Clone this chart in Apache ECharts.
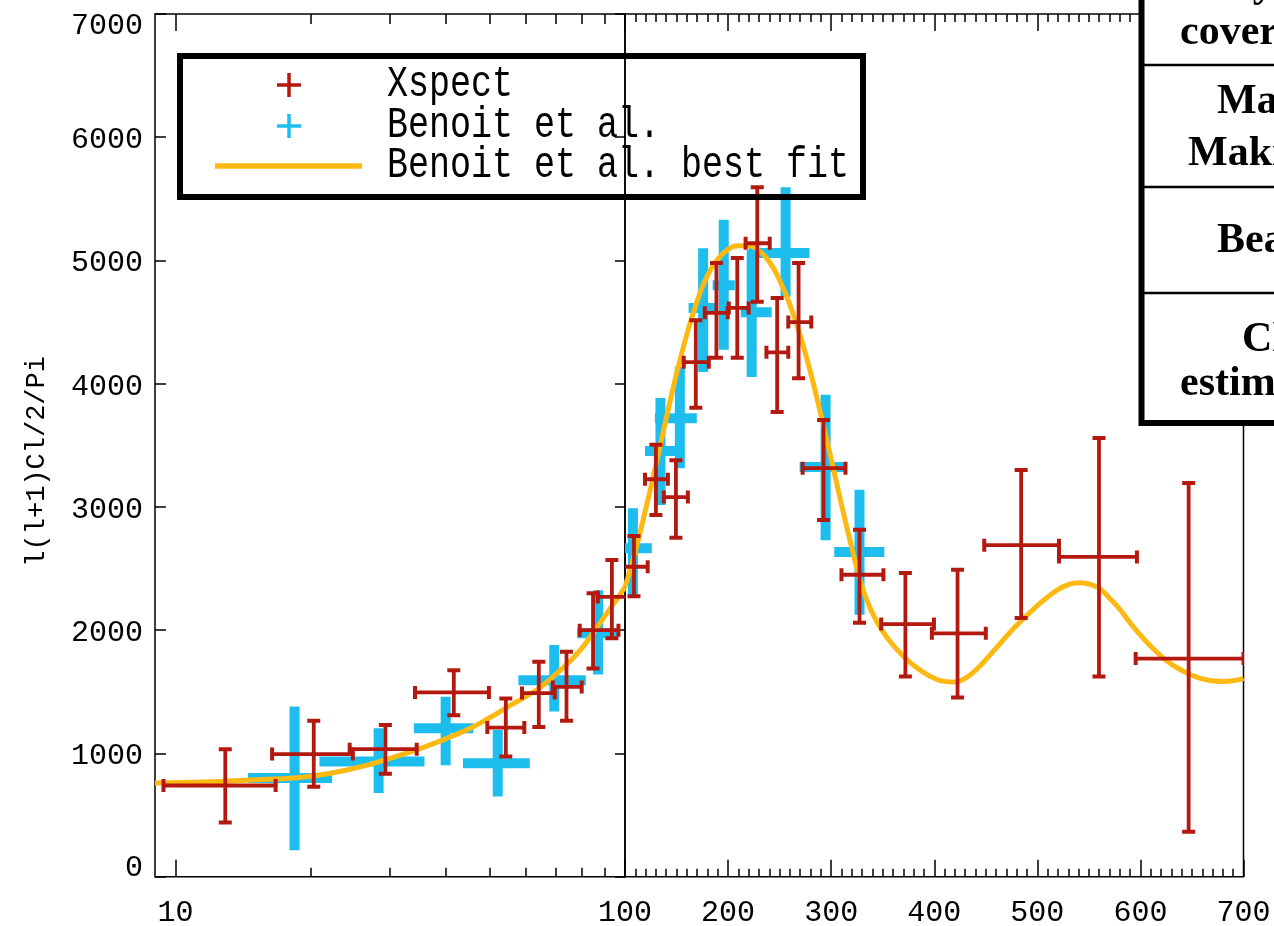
<!DOCTYPE html>
<html>
<head>
<meta charset="utf-8">
<script src="https://cdn.jsdelivr.net/npm/echarts@6/dist/echarts.min.js"></script>
<style>
  html, body { margin: 0; padding: 0; background: #fff; }
  #chart { width: 1274px; height: 926px; }
</style>
</head>
<body>
<div id="chart"></div>
<script>
// ---- Xspect band powers: multipole centre, bin edges, l(l+1)Cl/2pi and its 1-sigma range
const xspectEll   = [12.9, 20.3, 29.3, 41.6, 54.3, 64.3, 74.1, 84.9, 93.5, 108.7, 130, 149.4, 168.7, 188.7, 208.9, 228.3, 247.6, 268.4, 292.6, 327.5, 372, 422.6, 484.3, 559.8, 646.8];
const xspectEllLo = [9.4, 16.4, 24.4, 34.1, 49.4, 59.0, 69.1, 79.3, 87, 97, 119.4, 137.7, 157, 177.4, 200.7, 217, 237.2, 258.4, 272.3, 310, 348.5, 397.7, 448.5, 521, 595.4];
const xspectEllHi = [16.7, 24.8, 34.4, 49.8, 59.7, 69.8, 80.1, 96.7, 101.5, 122, 141.6, 161, 181.3, 199.7, 220, 240.4, 258.4, 280.7, 313.9, 350.7, 399.7, 450, 521, 596.6, 700];
const xspectCl    = [740, 995, 1035, 1495, 1210, 1490, 1540, 2000, 2270, 2515, 3225, 3080, 4175, 4575, 4615, 5140, 4255, 4500, 3315, 2450, 2050, 1975, 2690, 2595, 1770];
const xspectClLo  = [440, 730, 835, 1310, 975, 1215, 1265, 1690, 1935, 2275, 2935, 2750, 3805, 4210, 4210, 4665, 3770, 4045, 2895, 2060, 1625, 1455, 2100, 1625, 365];
const xspectClHi  = [1035, 1265, 1230, 1675, 1445, 1745, 1825, 2300, 2570, 2765, 3505, 3380, 4515, 4980, 5020, 5595, 4695, 4980, 3705, 2815, 2465, 2490, 3300, 3560, 3195];

// ---- Benoit et al. band powers
const benoitEll   = [18.4, 28.3, 39.9, 52.1, 69.6, 87.1, 107.7, 134.4, 153.2, 175.8, 195.8, 222.9, 255.8, 294.6, 327.5];
const benoitEllLo = [14.5, 20.9, 33.9, 43.6, 57.9, 78.3, 98, 119.4, 129, 161.7, 185, 212.3, 220, 269.4, 303];
const benoitEllHi = [22.3, 35.8, 46.0, 61.4, 81.8, 96.7, 126, 151.3, 169.7, 190, 206.5, 242.3, 279, 313.9, 351.6];
const benoitCl    = [800, 935, 1205, 920, 1595, 1975, 2665, 3455, 3720, 4615, 4800, 4580, 5060, 3325, 2635];
const benoitClLo  = [215, 680, 905, 650, 1340, 1640, 2285, 3015, 3315, 4095, 4275, 4055, 4705, 2730, 2125];
const benoitClHi  = [1380, 1205, 1460, 1190, 1880, 2325, 2990, 3885, 4135, 5100, 5330, 5085, 5595, 3910, 3140];

// ---- Benoit et al. best-fit spectrum
const fitEll = [9, 12, 16, 20, 25, 30, 35, 40, 45, 50, 55, 60, 65, 70, 75, 80, 85, 90, 95, 100,
  110, 120, 130, 140, 150, 160, 170, 180, 190, 200, 210, 220, 230, 240, 250, 260, 270, 280, 290, 300,
  310, 320, 330, 340, 350, 360, 370, 380, 390, 400, 410, 420, 430, 440, 450, 460, 470, 480, 490, 500,
  510, 520, 530, 540, 550, 560, 570, 580, 590, 600, 610, 620, 630, 640, 650, 660, 670, 680, 690, 700];
const fitCl = [760, 770, 790, 815, 880, 960, 1040, 1120, 1200, 1290, 1380, 1460, 1540, 1640, 1740, 1850, 1980, 2110, 2230, 2350,
  2640, 2980, 3340, 3720, 4080, 4400, 4670, 4880, 5010, 5090, 5120, 5120, 5080, 4990, 4840, 4640, 4390, 4090, 3750, 3390,
  3020, 2670, 2350, 2140, 1990, 1880, 1790, 1715, 1655, 1610, 1585, 1580, 1610, 1675, 1760, 1855, 1950, 2040, 2120, 2200,
  2270, 2330, 2370, 2385, 2375, 2340, 2260, 2170, 2060, 1960, 1870, 1790, 1725, 1675, 1635, 1605, 1590, 1583, 1590, 1610];

// ---- axis ticks and texts
const logTicks = [20, 30, 40, 50, 60, 70, 80, 90];
const logLabels = [10];
const yLabelTitle = 'l(l+1)Cl/2/Pi';
const legendNames = ['Xspect', 'Benoit et al.', 'Benoit et al. best fit'];
const tableLines = [
  { text: 'Sky', x: 1206, y: -15 },
  { text: 'coverage', x: 1180, y: 33 },
  { text: 'Map', x: 1217, y: 102 },
  { text: 'Making', x: 1188, y: 154 },
  { text: 'Beam', x: 1217, y: 241 },
  { text: 'Cl', x: 1242, y: 340 },
  { text: 'estimation', x: 1180, y: 384 }
];

const RED = '#b3190f';
const BLUE = '#1dbdee';
const YELLOW = '#fcb912';
const MONO = '"Liberation Mono", "DejaVu Sans Mono", monospace';
const BREAK = 100; // multipole where the axis turns from log to linear

function bandRows(ell, lo, hi, cl, clLo, clHi, keep) {
  const out = [];
  for (let i = 0; i < ell.length; i++) {
    if (keep(ell[i])) out.push([ell[i], cl[i], lo[i], hi[i], clLo[i], clHi[i]]);
  }
  return out;
}
function fitRows(keep) {
  const out = [];
  for (let i = 0; i < fitEll.length; i++) if (keep(fitEll[i])) out.push([fitEll[i], fitCl[i]]);
  return out;
}
const isLow = v => v < BREAK;
const isHigh = v => v >= BREAK;

// error cross: horizontal bin width + vertical 1-sigma bar, optional end caps
function crossItem(color, width, cap) {
  return function (params, api) {
    const ell = api.value(0), cl = api.value(1);
    const l = api.coord([api.value(2), cl]);
    const r = api.coord([api.value(3), cl]);
    const lo = api.coord([ell, api.value(4)]);
    const hi = api.coord([ell, api.value(5)]);
    const st = { stroke: color, lineWidth: width, lineCap: 'butt' };
    const kids = [
      { type: 'line', shape: { x1: l[0], y1: l[1], x2: r[0], y2: r[1] }, style: st },
      { type: 'line', shape: { x1: lo[0], y1: lo[1], x2: hi[0], y2: hi[1] }, style: st }
    ];
    if (cap) {
      const cs = { stroke: color, lineWidth: 4, lineCap: 'butt' };
      kids.push({ type: 'line', shape: { x1: l[0], y1: l[1] - cap, x2: l[0], y2: l[1] + cap }, style: cs });
      kids.push({ type: 'line', shape: { x1: r[0], y1: r[1] - cap, x2: r[0], y2: r[1] + cap }, style: cs });
      kids.push({ type: 'line', shape: { x1: lo[0] - cap, y1: lo[1], x2: lo[0] + cap, y2: lo[1] }, style: cs });
      kids.push({ type: 'line', shape: { x1: hi[0] - cap, y1: hi[1], x2: hi[0] + cap, y2: hi[1] }, style: cs });
    }
    return { type: 'group', children: kids };
  };
}

const tickLine = { color: '#000', width: 1.5 };
const labelFont = { fontFamily: MONO, fontSize: 30, color: '#000' };

function logAxis(position, ticks, len, labels) {
  return {
    gridIndex: 0, type: 'log', logBase: 10, min: 9, max: 100, position: position,
    axisLine: { show: false, onZero: false },
    axisTick: { show: true, inside: true, length: len, customValues: ticks, lineStyle: tickLine },
    axisLabel: labels ? Object.assign({ show: true, customValues: labels, margin: 21 }, labelFont) : { show: false },
    splitLine: { show: false }
  };
}
function linAxis(position, labels) {
  return {
    gridIndex: 1, type: 'value', min: 100, max: 700, interval: 100, position: position,
    axisLine: { show: false, onZero: false },
    axisTick: { show: true, inside: true, length: 17, lineStyle: tickLine },
    minorTick: { show: true, splitNumber: 10, length: 8, lineStyle: tickLine },
    axisLabel: labels ? Object.assign({ show: true, margin: 21, showMinLabel: true, showMaxLabel: true }, labelFont) : { show: false },
    splitLine: { show: false }, minorSplitLine: { show: false }
  };
}

const richY = {
  top: { fontFamily: MONO, fontSize: 30, color: '#000', padding: [24, 0, 0, 0] },
  bot: { fontFamily: MONO, fontSize: 30, color: '#000', padding: [0, 0, 18, 0] },
  n:   { fontFamily: MONO, fontSize: 30, color: '#000', padding: [6, 0, 0, 0] }
};

const legendGraphics = [
  { type: 'rect', shape: { x: 180, y: 56, width: 683, height: 141 }, style: { fill: 'none', stroke: '#000', lineWidth: 6 }, z: 50 },
  { type: 'line', shape: { x1: 277, y1: 85, x2: 301, y2: 85 }, style: { stroke: RED, lineWidth: 3.5 }, z: 50 },
  { type: 'line', shape: { x1: 289, y1: 73, x2: 289, y2: 97 }, style: { stroke: RED, lineWidth: 3.5 }, z: 50 },
  { type: 'line', shape: { x1: 277, y1: 126, x2: 301, y2: 126 }, style: { stroke: BLUE, lineWidth: 3.5 }, z: 50 },
  { type: 'line', shape: { x1: 289, y1: 114, x2: 289, y2: 138 }, style: { stroke: BLUE, lineWidth: 3.5 }, z: 50 },
  { type: 'line', shape: { x1: 215, y1: 166, x2: 362, y2: 166 }, style: { stroke: YELLOW, lineWidth: 5.5 }, z: 50 }
];
[84, 125, 165].forEach(function (y, i) {
  legendGraphics.push({
    type: 'text', x: 387, y: y, scaleY: 1.25, z: 50,
    style: { text: legendNames[i], x: 0, y: 0, font: '35px ' + MONO, fill: '#000',
             textAlign: 'left', textVerticalAlign: 'middle', align: 'left', verticalAlign: 'middle' }
  });
});

const tableGraphics = [
  { type: 'rect', shape: { x: 1141.5, y: -20, width: 200, height: 443 }, style: { fill: '#fff', stroke: '#000', lineWidth: 6 }, z: 100 }
];
[65, 187, 293].forEach(function (y) {
  tableGraphics.push({ type: 'line', shape: { x1: 1142, y1: y, x2: 1300, y2: y }, style: { stroke: '#000', lineWidth: 2.5 }, z: 101 });
});
tableLines.forEach(function (t) {
  tableGraphics.push({
    type: 'text', x: t.x, y: t.y, z: 102,
    style: { text: t.text, x: 0, y: 0, font: 'bold 42px "Liberation Serif", "Times New Roman", serif', fill: '#000',
             textAlign: 'left', textVerticalAlign: 'middle', align: 'left', verticalAlign: 'middle' }
  });
});

const chart = echarts.init(document.getElementById('chart'), null, { renderer: 'canvas' });
chart.setOption({
  animation: false,
  backgroundColor: '#fff',
  grid: [
    { left: 155, top: 14, width: 470, height: 862.7, show: true, borderColor: '#000', borderWidth: 1.5, backgroundColor: 'transparent', outerBoundsMode: 'none' },
    { left: 625, top: 14, width: 618.5, height: 862.7, show: true, borderColor: '#000', borderWidth: 1.5, backgroundColor: 'transparent', outerBoundsMode: 'none' }
  ],
  xAxis: [
    logAxis('bottom', logTicks, 9, null),
    logAxis('bottom', logLabels, 17, logLabels),
    logAxis('top', logTicks, 10, null),
    logAxis('top', logLabels, 17, null),
    linAxis('bottom', true),
    linAxis('top', false)
  ],
  yAxis: [
    {
      gridIndex: 0, type: 'value', min: 0, max: 7000, interval: 1000, position: 'left',
      axisLine: { show: false, onZero: false },
      axisTick: { show: true, inside: true, length: 11, lineStyle: tickLine },
      axisLabel: {
        margin: 12, fontFamily: MONO, fontSize: 30, color: '#000', showMinLabel: true, showMaxLabel: true,
        formatter: function (v) { return v === 7000 ? '{top|' + v + '}' : (v === 0 ? '{bot|0}' : '{n|' + v + '}'); },
        rich: richY
      },
      splitLine: { show: false },
      name: yLabelTitle, nameLocation: 'middle', nameGap: 105, nameRotate: 90,
      nameTextStyle: { fontFamily: MONO, fontSize: 27, color: '#000', padding: [0, 32, 0, 0] }
    },
    {
      gridIndex: 0, type: 'value', min: 0, max: 7000, interval: 1000, position: 'right',
      axisLine: { show: false, onZero: false },
      axisTick: { show: true, inside: true, length: 10, lineStyle: tickLine },
      axisLabel: { show: false }, splitLine: { show: false }
    },
    { gridIndex: 1, type: 'value', min: 0, max: 7000, interval: 1000, show: false, splitLine: { show: false } }
  ],
  series: [
    { type: 'custom', name: 'Benoit et al.', xAxisIndex: 0, yAxisIndex: 0, z: 2, clip: true,
      data: bandRows(benoitEll, benoitEllLo, benoitEllHi, benoitCl, benoitClLo, benoitClHi, isLow),
      encode: { x: 0, y: 1 }, renderItem: crossItem(BLUE, 10, 0) },
    { type: 'custom', name: 'Benoit et al.', xAxisIndex: 4, yAxisIndex: 2, z: 2, clip: true,
      data: bandRows(benoitEll, benoitEllLo, benoitEllHi, benoitCl, benoitClLo, benoitClHi, isHigh),
      encode: { x: 0, y: 1 }, renderItem: crossItem(BLUE, 10, 0) },
    { type: 'line', name: 'Benoit et al. best fit', xAxisIndex: 0, yAxisIndex: 0, z: 3, clip: true,
      data: fitRows(v => v <= BREAK), smooth: true, showSymbol: false, symbol: 'none',
      lineStyle: { color: YELLOW, width: 5 } },
    { type: 'line', name: 'Benoit et al. best fit', xAxisIndex: 4, yAxisIndex: 2, z: 3, clip: true,
      data: fitRows(isHigh), smooth: true, showSymbol: false, symbol: 'none',
      lineStyle: { color: YELLOW, width: 5 } },
    { type: 'custom', name: 'Xspect', xAxisIndex: 0, yAxisIndex: 0, z: 4, clip: true,
      data: bandRows(xspectEll, xspectEllLo, xspectEllHi, xspectCl, xspectClLo, xspectClHi, isLow),
      encode: { x: 0, y: 1 }, renderItem: crossItem(RED, 3.8, 6.5) },
    { type: 'custom', name: 'Xspect', xAxisIndex: 4, yAxisIndex: 2, z: 4, clip: true,
      data: bandRows(xspectEll, xspectEllLo, xspectEllHi, xspectCl, xspectClLo, xspectClHi, isHigh),
      encode: { x: 0, y: 1 }, renderItem: crossItem(RED, 3.8, 6.5) }
  ],
  graphic: { elements: legendGraphics.concat(tableGraphics) }
});
</script>
</body>
</html>
